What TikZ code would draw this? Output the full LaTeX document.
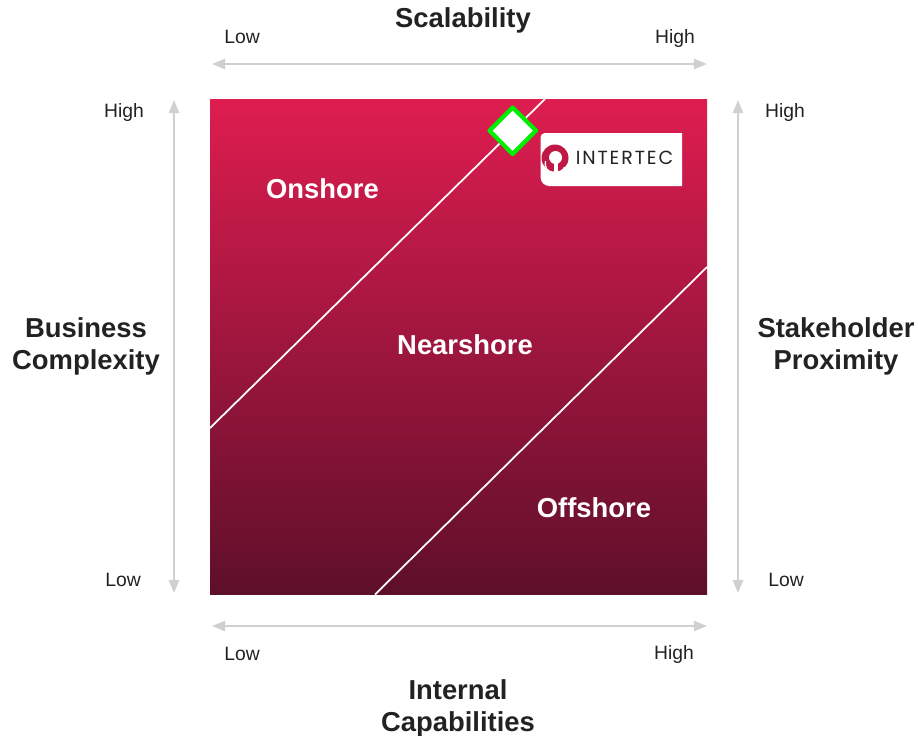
\documentclass[tikz,border=0pt]{standalone}
\usepackage{fontspec}
\setmainfont{Liberation Sans}
\newfontfamily\logofont[LetterSpace=10]{Poppins}
\usetikzlibrary{arrows.meta}
\definecolor{plottop}{HTML}{DE1D50}
\definecolor{plotbottom}{HTML}{5E0F2A}
\definecolor{axisgray}{HTML}{D0D0D0}
\definecolor{inkdark}{HTML}{222222}
\definecolor{markgreen}{HTML}{00EE00}
\tikzset{
	axisarrow/.style={<->, axisgray, line width=1.2pt},
	ticklabel/.style={text=inkdark, font=\fontsize{11}{12}\selectfont},
	axistitle/.style={text=inkdark, align=center, font=\fontsize{15.6}{18.2}\selectfont\bfseries},
	zonelabel/.style={text=white, font=\fontsize{15.6}{18}\selectfont\bfseries},
	zoneline/.style={white, line width=1pt}
}
\begin{document}
\begin{tikzpicture}[x=0.02cm, y=-0.02cm, line join=round, >={Triangle[length=7.5pt,width=5.8pt]}]
	\useasboundingbox (0,0) rectangle (918,735);
	% square
	\shade[top color=plottop, bottom color=plotbottom] (210,99) rectangle (707,594.5);
	% borders between zones
	\coordinate (upperA) at (210,428);
	\coordinate (upperB) at (545,99);
	\coordinate (lowerA) at (375,594.5);
	\coordinate (lowerB) at (707,267);
	\draw[zoneline] (upperA)--(upperB);
	\draw[zoneline] (lowerA)--(lowerB);
	\node[zonelabel] (onshore) at (322.5,189) {Onshore};
	\node[zonelabel] (nearshore) at (465,345) {Nearshore};
	\node[zonelabel] (offshore) at (594,508) {Offshore};
	% marker
	\draw[fill=white, draw=markgreen, line width=2.4pt] (512.7,107.5)--(536,130.7)--(512.7,154)--(489.5,130.7)--cycle;
	% logo
	\fill[white] (682,133)--(682,186)[rounded corners=5pt]--(540.5,186)[rounded corners=2.5pt]--(540.5,133)[sharp corners]--cycle;
	\fill[plottop!85!black] (555,158) circle (13.5);
	\fill[white] (555.5,157.5) circle (6.5);
	\draw[white, line width=0.7pt] (545.5,161) arc (195:20:10);
	\fill[white] (553.5,162) rectangle (558,172);
	\node[text=inkdark, inner sep=0pt, font=\fontsize{10.8}{12}\selectfont\logofont] (logotext) at (624.5,158) {INTERTEC};
	% axes
	\coordinate (topL) at (212,64);
	\coordinate (topR) at (707,64);
	\coordinate (botL) at (212,626);
	\coordinate (botR) at (707,626);
	\coordinate (leftT) at (174,100);
	\coordinate (leftB) at (174,593);
	\coordinate (rightT) at (738,100);
	\coordinate (rightB) at (738,593);
	\draw[axisarrow] (topL)--(topR);
	\draw[axisarrow] (botL)--(botR);
	\draw[axisarrow] (leftT)--(leftB);
	\draw[axisarrow] (rightT)--(rightB);
	% axis labels
	\node[ticklabel] (topLow) at (242,37) {Low};
	\node[ticklabel] (topHigh) at (675,38.5) {High};
	\node[ticklabel] (botLow) at (242,654) {Low};
	\node[ticklabel] (botHigh) at (674,654.5) {High};
	\node[ticklabel] (leftHigh) at (124,112.5) {High};
	\node[ticklabel] (leftLow) at (123,580) {Low};
	\node[ticklabel] (rightHigh) at (785,112.5) {High};
	\node[ticklabel] (rightLow) at (786,580) {Low};
	\node[axistitle] (scalability) at (463,20.5) {Scalability};
	\node[axistitle] (business) at (86,346) {Business\\Complexity};
	\node[axistitle] (stakeholder) at (836,346) {Stakeholder\\Proximity};
	\node[axistitle] (internal) at (458,708.5) {Internal\\Capabilities};
\end{tikzpicture}
\end{document}
